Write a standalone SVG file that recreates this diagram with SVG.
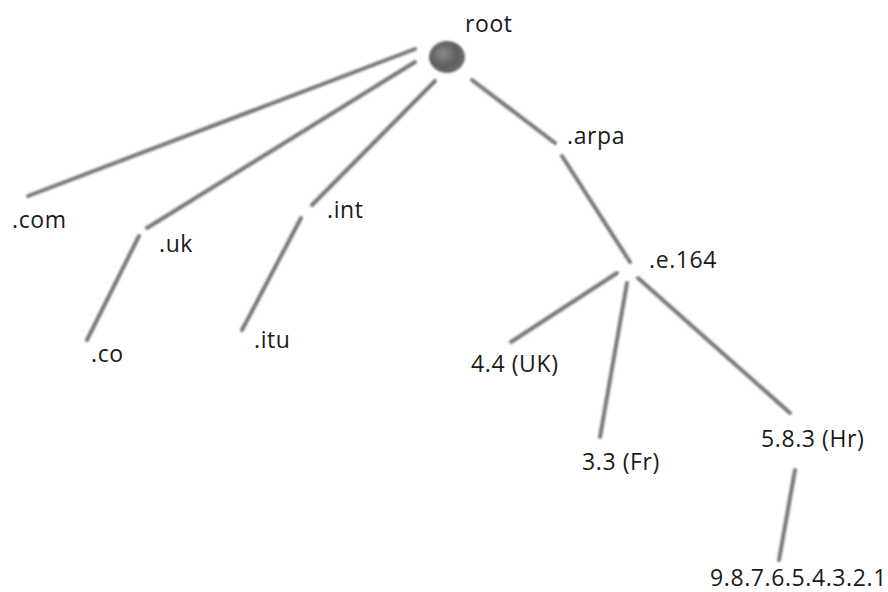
<svg xmlns="http://www.w3.org/2000/svg" width="888" height="592" viewBox="0 0 888 592">
<style>
  .lbl { font-family: "Open Sans", "Noto Sans", sans-serif; font-size: 23px; letter-spacing: 0.6px; fill: #1a1a1a; }
  .edge { stroke: #777777; stroke-width: 4; stroke-linecap: round; fill: none; }
</style>
<defs>
  <filter id="soft" x="-10%" y="-10%" width="120%" height="120%">
    <feGaussianBlur stdDeviation="0.9"/>
  </filter>
  <radialGradient id="ball" cx="0.4" cy="0.4" r="0.65">
    <stop offset="0" stop-color="#8a8a8a"/>
    <stop offset="0.6" stop-color="#5e5e5e"/>
    <stop offset="1" stop-color="#6e6e6e"/>
  </radialGradient>
</defs>
<rect width="888" height="592" fill="#ffffff"/>
<g id="connectors" filter="url(#soft)">
  <line class="edge" x1="415" y1="49" x2="28" y2="196"/>
  <line class="edge" x1="415" y1="62" x2="147" y2="228"/>
  <line class="edge" x1="435" y1="81" x2="312" y2="205"/>
  <line class="edge" x1="472" y1="80" x2="555" y2="143"/>
  <line class="edge" x1="562" y1="156" x2="630" y2="262"/>
  <line class="edge" x1="617" y1="273" x2="511" y2="342"/>
  <line class="edge" x1="627" y1="283" x2="600" y2="437"/>
  <line class="edge" x1="638" y1="278" x2="790" y2="413"/>
  <line class="edge" x1="795" y1="470" x2="779" y2="560"/>
  <line class="edge" x1="139" y1="236" x2="87" y2="340"/>
  <line class="edge" x1="301" y1="218" x2="242" y2="330"/>
</g>
<g id="root">
  <ellipse cx="447" cy="57" rx="18" ry="16" fill="url(#ball)" filter="url(#soft)"/>
  <text class="lbl" x="465" y="32">root</text>
</g>
<g id="com"><text class="lbl" x="12" y="228">.com</text></g>
<g id="uk"><text class="lbl" x="159" y="252">.uk</text></g>
<g id="co"><text class="lbl" x="91" y="362">.co</text></g>
<g id="int"><text class="lbl" x="327" y="218">.int</text></g>
<g id="itu"><text class="lbl" x="254" y="348">.itu</text></g>
<g id="arpa"><text class="lbl" x="567" y="144">.arpa</text></g>
<g id="e164"><text class="lbl" x="649" y="268">.e.164</text></g>
<g id="uk44"><text class="lbl" x="471" y="372">4.4 (UK)</text></g>
<g id="fr33"><text class="lbl" x="582" y="470">3.3 (Fr)</text></g>
<g id="hr583"><text class="lbl" x="761" y="447">5.8.3 (Hr)</text></g>
<g id="num"><text class="lbl" x="710" y="586">9.8.7.6.5.4.3.2.1</text></g>
</svg>
